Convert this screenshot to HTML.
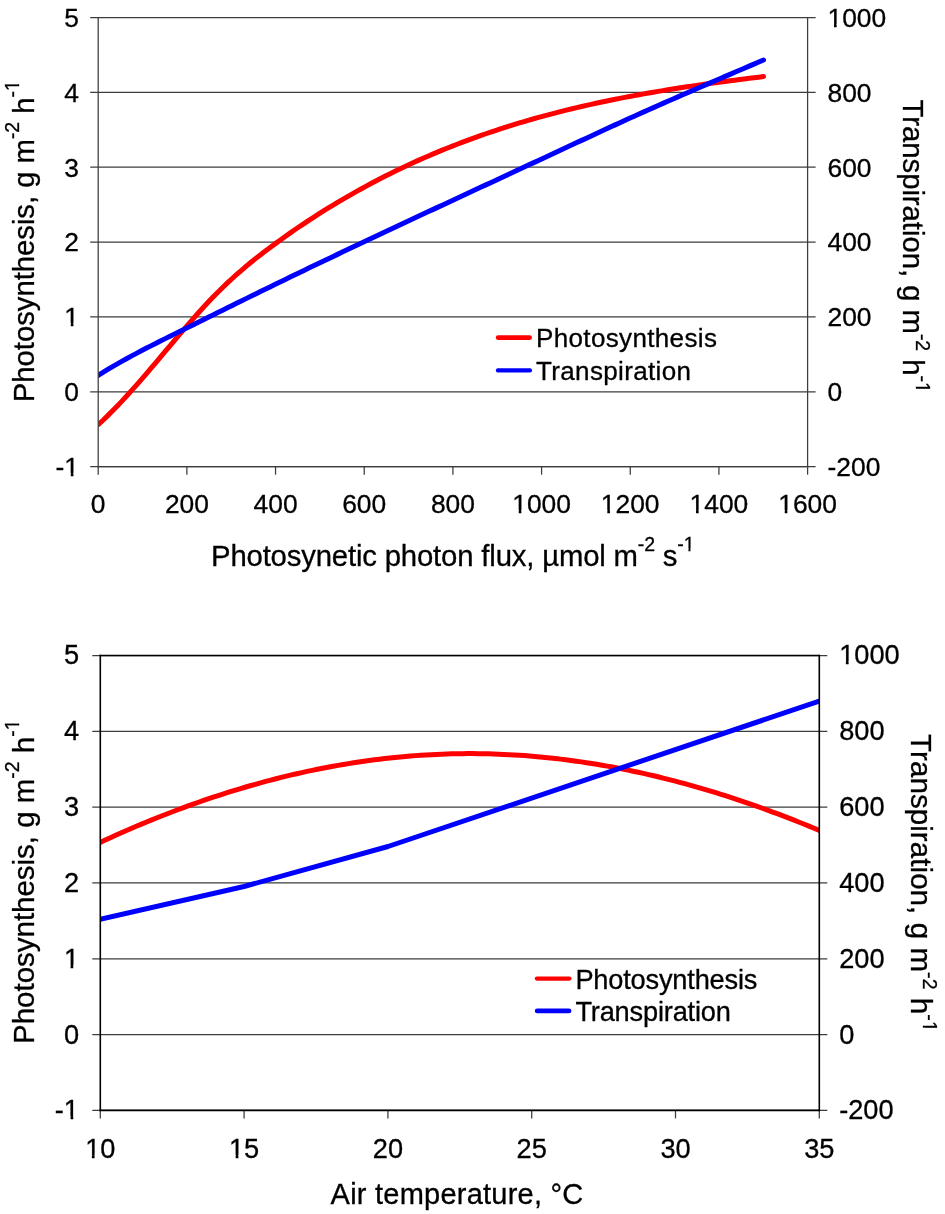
<!DOCTYPE html>
<html><head><meta charset="utf-8"><style>
html,body{margin:0;padding:0;background:#fff;}
svg{display:block;will-change:transform;}
text{font-family:"Liberation Sans",sans-serif;fill:#000;stroke:#000;stroke-width:0.3px;}
</style></head><body>
<svg width="945" height="1214" viewBox="0 0 945 1214">
<rect width="945" height="1214" fill="#fff"/>
<g stroke="#3c3c3c" stroke-width="1.25"><line x1="90.2" y1="17.50" x2="815.6" y2="17.50"/><line x1="90.2" y1="92.37" x2="815.6" y2="92.37"/><line x1="90.2" y1="167.23" x2="815.6" y2="167.23"/><line x1="90.2" y1="242.10" x2="815.6" y2="242.10"/><line x1="90.2" y1="316.97" x2="815.6" y2="316.97"/><line x1="90.2" y1="391.83" x2="815.6" y2="391.83"/><line x1="90.2" y1="466.70" x2="815.6" y2="466.70"/><line x1="98.20" y1="466.7" x2="98.20" y2="474.7"/><line x1="186.88" y1="466.7" x2="186.88" y2="474.7"/><line x1="275.55" y1="466.7" x2="275.55" y2="474.7"/><line x1="364.22" y1="466.7" x2="364.22" y2="474.7"/><line x1="452.90" y1="466.7" x2="452.90" y2="474.7"/><line x1="541.58" y1="466.7" x2="541.58" y2="474.7"/><line x1="630.25" y1="466.7" x2="630.25" y2="474.7"/><line x1="718.93" y1="466.7" x2="718.93" y2="474.7"/><line x1="807.60" y1="466.7" x2="807.60" y2="474.7"/></g>
<g font-size="26.4"><text x="98.2" y="512.7" text-anchor="middle">0</text><text x="186.9" y="512.7" text-anchor="middle">200</text><text x="275.6" y="512.7" text-anchor="middle">400</text><text x="364.2" y="512.7" text-anchor="middle">600</text><text x="452.9" y="512.7" text-anchor="middle">800</text><text x="541.6" y="512.7" text-anchor="middle">1000</text><text x="630.2" y="512.7" text-anchor="middle">1200</text><text x="718.9" y="512.7" text-anchor="middle">1400</text><text x="807.6" y="512.7" text-anchor="middle">1600</text><text x="79.0" y="26.8" text-anchor="end">5</text><text x="827.5" y="26.8">1000</text><text x="79.0" y="101.7" text-anchor="end">4</text><text x="827.5" y="101.7">800</text><text x="79.0" y="176.5" text-anchor="end">3</text><text x="827.5" y="176.5">600</text><text x="79.0" y="251.4" text-anchor="end">2</text><text x="827.5" y="251.4">400</text><text x="79.0" y="326.3" text-anchor="end">1</text><text x="827.5" y="326.3">200</text><text x="79.0" y="401.1" text-anchor="end">0</text><text x="827.5" y="401.1">0</text><text x="79.0" y="476.0" text-anchor="end">-1</text><text x="827.5" y="476.0">-200</text></g>
<clipPath id="c98"><rect x="98.20" y="17.50" width="709.40" height="449.20"/></clipPath>
<g clip-path="url(#c98)" fill="none" stroke-width="5" stroke-linecap="round" stroke-linejoin="round">
<path d="M98.20,424.65 L102.99,420.22 L107.77,415.61 L112.56,410.84 L117.35,405.93 L122.13,400.88 L126.92,395.71 L131.70,390.43 L136.49,385.06 L141.28,379.59 L146.06,374.06 L150.85,368.46 L155.64,362.82 L160.42,357.15 L165.21,351.46 L169.99,345.77 L174.78,340.09 L179.57,334.44 L184.35,328.84 L189.14,323.30 L193.93,317.84 L198.71,312.47 L203.50,307.21 L208.29,302.06 L213.07,297.05 L217.86,292.18 L222.64,287.47 L227.43,282.91 L232.22,278.48 L237.00,274.19 L241.79,270.02 L246.58,265.96 L251.36,262.02 L256.15,258.17 L260.94,254.41 L265.72,250.74 L270.51,247.14 L275.29,243.62 L280.08,240.15 L284.87,236.73 L289.65,233.36 L294.44,230.05 L299.23,226.78 L304.01,223.57 L308.80,220.40 L313.58,217.29 L318.37,214.22 L323.16,211.20 L327.94,208.23 L332.73,205.30 L337.52,202.42 L342.30,199.59 L347.09,196.80 L351.88,194.06 L356.66,191.36 L361.45,188.71 L366.23,186.10 L371.02,183.53 L375.81,181.01 L380.59,178.53 L385.38,176.09 L390.17,173.69 L394.95,171.34 L399.74,169.02 L404.53,166.74 L409.31,164.51 L414.10,162.31 L418.88,160.15 L423.67,158.03 L428.46,155.95 L433.24,153.90 L438.03,151.90 L442.82,149.93 L447.60,147.99 L452.39,146.09 L457.17,144.22 L461.96,142.39 L466.75,140.60 L471.53,138.83 L476.32,137.10 L481.11,135.41 L485.89,133.74 L490.68,132.11 L495.47,130.51 L500.25,128.94 L505.04,127.40 L509.82,125.89 L514.61,124.40 L519.40,122.95 L524.18,121.53 L528.97,120.13 L533.76,118.77 L538.54,117.43 L543.33,116.11 L548.12,114.82 L552.90,113.56 L557.69,112.33 L562.47,111.11 L567.26,109.93 L572.05,108.76 L576.83,107.62 L581.62,106.51 L586.41,105.41 L591.19,104.34 L595.98,103.29 L600.76,102.26 L605.55,101.25 L610.34,100.26 L615.12,99.30 L619.91,98.35 L624.70,97.42 L629.48,96.50 L634.27,95.61 L639.06,94.73 L643.84,93.88 L648.63,93.03 L653.41,92.21 L658.20,91.39 L662.99,90.60 L667.77,89.82 L672.56,89.05 L677.35,88.30 L682.13,87.56 L686.92,86.83 L691.71,86.12 L696.49,85.41 L701.28,84.72 L706.06,84.04 L710.85,83.37 L715.64,82.71 L720.42,82.06 L725.21,81.42 L730.00,80.79 L734.78,80.17 L739.57,79.55 L744.35,78.94 L749.14,78.34 L753.93,77.74 L758.71,77.16 L763.50,76.57" stroke="#f00"/>
<path d="M98.20,375.28 L102.99,372.33 L107.77,369.44 L112.56,366.61 L117.35,363.85 L122.13,361.14 L126.92,358.49 L131.70,355.89 L136.49,353.33 L141.28,350.80 L146.06,348.32 L150.85,345.86 L155.64,343.43 L160.42,341.02 L165.21,338.62 L169.99,336.24 L174.78,333.87 L179.57,331.50 L184.35,329.13 L189.14,326.76 L193.93,324.39 L198.71,322.02 L203.50,319.65 L208.29,317.29 L213.07,314.92 L217.86,312.55 L222.64,310.18 L227.43,307.82 L232.22,305.46 L237.00,303.09 L241.79,300.74 L246.58,298.38 L251.36,296.03 L256.15,293.68 L260.94,291.33 L265.72,288.99 L270.51,286.65 L275.29,284.32 L280.08,281.99 L284.87,279.66 L289.65,277.34 L294.44,275.02 L299.23,272.71 L304.01,270.41 L308.80,268.10 L313.58,265.80 L318.37,263.51 L323.16,261.22 L327.94,258.93 L332.73,256.65 L337.52,254.37 L342.30,252.09 L347.09,249.82 L351.88,247.55 L356.66,245.28 L361.45,243.02 L366.23,240.76 L371.02,238.50 L375.81,236.25 L380.59,233.99 L385.38,231.74 L390.17,229.50 L394.95,227.25 L399.74,225.01 L404.53,222.77 L409.31,220.53 L414.10,218.29 L418.88,216.05 L423.67,213.82 L428.46,211.59 L433.24,209.36 L438.03,207.13 L442.82,204.90 L447.60,202.67 L452.39,200.44 L457.17,198.22 L461.96,195.99 L466.75,193.77 L471.53,191.54 L476.32,189.32 L481.11,187.10 L485.89,184.87 L490.68,182.65 L495.47,180.43 L500.25,178.20 L505.04,175.98 L509.82,173.75 L514.61,171.53 L519.40,169.30 L524.18,167.08 L528.97,164.85 L533.76,162.63 L538.54,160.40 L543.33,158.17 L548.12,155.94 L552.90,153.72 L557.69,151.49 L562.47,149.27 L567.26,147.04 L572.05,144.82 L576.83,142.60 L581.62,140.37 L586.41,138.15 L591.19,135.94 L595.98,133.72 L600.76,131.51 L605.55,129.30 L610.34,127.09 L615.12,124.89 L619.91,122.70 L624.70,120.51 L629.48,118.34 L634.27,116.17 L639.06,114.02 L643.84,111.87 L648.63,109.74 L653.41,107.61 L658.20,105.49 L662.99,103.38 L667.77,101.27 L672.56,99.18 L677.35,97.09 L682.13,95.00 L686.92,92.92 L691.71,90.85 L696.49,88.78 L701.28,86.71 L706.06,84.65 L710.85,82.59 L715.64,80.53 L720.42,78.47 L725.21,76.42 L730.00,74.36 L734.78,72.31 L739.57,70.26 L744.35,68.20 L749.14,66.15 L753.93,64.09 L758.71,62.04 L763.50,59.98" stroke="#00f"/>
</g>
<g stroke="#3c3c3c" stroke-width="1.25" stroke-linecap="square"><line x1="98.20" y1="17.5" x2="98.20" y2="466.7"/><line x1="807.60" y1="17.5" x2="807.60" y2="466.7"/><line x1="98.20" y1="466.70" x2="807.60" y2="466.70"/></g>
<line x1="498.1" y1="337.6" x2="529.7" y2="337.6" stroke="#f00" stroke-width="4.6" stroke-linecap="round"/>
<line x1="497.9" y1="370.4" x2="530.0" y2="370.4" stroke="#00f" stroke-width="4.1" stroke-linecap="round"/>
<text x="536.0" y="347.4" font-size="26" letter-spacing="0.35">Photosynthesis</text>
<text x="536.0" y="380.2" font-size="26" letter-spacing="0.35">Transpiration</text>
<g stroke="#3c3c3c" stroke-width="1.25"><line x1="92.3" y1="655.50" x2="827.3" y2="655.50"/><line x1="92.3" y1="731.32" x2="827.3" y2="731.32"/><line x1="92.3" y1="807.13" x2="827.3" y2="807.13"/><line x1="92.3" y1="882.95" x2="827.3" y2="882.95"/><line x1="92.3" y1="958.77" x2="827.3" y2="958.77"/><line x1="92.3" y1="1034.58" x2="827.3" y2="1034.58"/><line x1="92.3" y1="1110.40" x2="827.3" y2="1110.40"/><line x1="100.30" y1="1110.4" x2="100.30" y2="1118.4"/><line x1="244.10" y1="1110.4" x2="244.10" y2="1118.4"/><line x1="387.90" y1="1110.4" x2="387.90" y2="1118.4"/><line x1="531.70" y1="1110.4" x2="531.70" y2="1118.4"/><line x1="675.50" y1="1110.4" x2="675.50" y2="1118.4"/><line x1="819.30" y1="1110.4" x2="819.30" y2="1118.4"/></g>
<g font-size="27.2"><text x="100.3" y="1157.7" text-anchor="middle">10</text><text x="244.1" y="1157.7" text-anchor="middle">15</text><text x="387.9" y="1157.7" text-anchor="middle">20</text><text x="531.7" y="1157.7" text-anchor="middle">25</text><text x="675.5" y="1157.7" text-anchor="middle">30</text><text x="819.3" y="1157.7" text-anchor="middle">35</text><text x="79.0" y="664.4" text-anchor="end">5</text><text x="839.2" y="664.4">1000</text><text x="79.0" y="740.2" text-anchor="end">4</text><text x="839.2" y="740.2">800</text><text x="79.0" y="816.0" text-anchor="end">3</text><text x="839.2" y="816.0">600</text><text x="79.0" y="891.9" text-anchor="end">2</text><text x="839.2" y="891.9">400</text><text x="79.0" y="967.7" text-anchor="end">1</text><text x="839.2" y="967.7">200</text><text x="79.0" y="1043.5" text-anchor="end">0</text><text x="839.2" y="1043.5">0</text><text x="79.0" y="1119.3" text-anchor="end">-1</text><text x="839.2" y="1119.3">-200</text></g>
<clipPath id="c100"><rect x="100.30" y="655.50" width="719.00" height="454.90"/></clipPath>
<g clip-path="url(#c100)" fill="none" stroke-width="5" stroke-linecap="round" stroke-linejoin="round">
<path d="M100.10,842.43 L105.27,840.03 L110.45,837.67 L115.62,835.33 L120.80,833.03 L125.97,830.76 L131.14,828.52 L136.32,826.31 L141.49,824.13 L146.67,821.98 L151.84,819.87 L157.02,817.78 L162.19,815.73 L167.36,813.71 L172.54,811.72 L177.71,809.76 L182.89,807.84 L188.06,805.94 L193.23,804.08 L198.41,802.25 L203.58,800.46 L208.76,798.69 L213.93,796.96 L219.10,795.26 L224.28,793.60 L229.45,791.96 L234.63,790.36 L239.80,788.79 L244.97,787.26 L250.15,785.75 L255.32,784.28 L260.50,782.85 L265.67,781.45 L270.85,780.08 L276.02,778.74 L281.19,777.44 L286.37,776.17 L291.54,774.93 L296.72,773.73 L301.89,772.57 L307.06,771.43 L312.24,770.33 L317.41,769.27 L322.59,768.24 L327.76,767.24 L332.93,766.28 L338.11,765.35 L343.28,764.46 L348.46,763.60 L353.63,762.78 L358.81,761.99 L363.98,761.23 L369.15,760.51 L374.33,759.83 L379.50,759.18 L384.68,758.57 L389.85,757.99 L395.02,757.45 L400.20,756.94 L405.37,756.47 L410.55,756.03 L415.72,755.63 L420.89,755.27 L426.07,754.94 L431.24,754.65 L436.42,754.39 L441.59,754.17 L446.76,753.99 L451.94,753.84 L457.11,753.73 L462.29,753.66 L467.46,753.62 L472.64,753.62 L477.81,753.65 L482.98,753.73 L488.16,753.84 L493.33,753.98 L498.51,754.16 L503.68,754.38 L508.85,754.64 L514.03,754.93 L519.20,755.25 L524.38,755.61 L529.55,756.01 L534.72,756.44 L539.90,756.91 L545.07,757.41 L550.25,757.95 L555.42,758.52 L560.59,759.13 L565.77,759.77 L570.94,760.45 L576.12,761.16 L581.29,761.90 L586.47,762.68 L591.64,763.49 L596.81,764.33 L601.99,765.21 L607.16,766.12 L612.34,767.07 L617.51,768.05 L622.68,769.06 L627.86,770.10 L633.03,771.18 L638.21,772.29 L643.38,773.43 L648.55,774.60 L653.73,775.80 L658.90,777.04 L664.08,778.31 L669.25,779.61 L674.43,780.94 L679.60,782.30 L684.77,783.70 L689.95,785.12 L695.12,786.58 L700.30,788.07 L705.47,789.58 L710.64,791.13 L715.82,792.71 L720.99,794.32 L726.17,795.96 L731.34,797.62 L736.51,799.32 L741.69,801.05 L746.86,802.81 L752.04,804.59 L757.21,806.41 L762.38,808.25 L767.56,810.12 L772.73,812.03 L777.91,813.96 L783.08,815.92 L788.26,817.90 L793.43,819.92 L798.60,821.96 L803.78,824.03 L808.95,826.13 L814.13,828.26 L819.30,830.41" stroke="#f00"/>
<path d="M100.1,919.3 L244.0,886.5 L388.0,846.5 L819.3,701.1" stroke="#00f"/>
</g>
<g stroke="#000" stroke-width="1.6" stroke-linecap="square"><line x1="100.30" y1="655.5" x2="100.30" y2="1110.4"/><line x1="819.30" y1="655.5" x2="819.30" y2="1110.4"/><line x1="100.30" y1="1110.40" x2="819.30" y2="1110.40"/><line x1="100.30" y1="655.50" x2="819.30" y2="655.50"/></g>
<line x1="536.9" y1="978.6" x2="569.4" y2="978.6" stroke="#f00" stroke-width="4.3" stroke-linecap="round"/>
<line x1="537.2" y1="1010.9" x2="569.0" y2="1010.9" stroke="#00f" stroke-width="4.9" stroke-linecap="round"/>
<text x="575.4" y="988.6" font-size="27.2" letter-spacing="-0.18">Photosynthesis</text>
<text x="575.4" y="1020.9" font-size="27.2" letter-spacing="-0.18">Transpiration</text>
<text transform="translate(211,565.6)" font-size="29.3" letter-spacing="-0.165">Photosynetic photon flux, µmol m<tspan font-size="19.5" dy="-15">-2</tspan><tspan dy="15"> s</tspan><tspan font-size="19.5" dy="-15">-1</tspan></text>
<text transform="translate(330.6,1204)" font-size="29.0" letter-spacing="0.23">Air temperature, °C</text>
<text transform="translate(33.75,402.2) rotate(-90)" font-size="29.3" letter-spacing="-0.037">Photosynthesis, g m<tspan font-size="19.5" dy="-15">-2</tspan><tspan dy="15"> h</tspan><tspan font-size="19.5" dy="-15">-1</tspan></text>
<text transform="translate(33.8,1044) rotate(-90)" font-size="29.5" letter-spacing="-0.015">Photosynthesis, g m<tspan font-size="19.5" dy="-15">-2</tspan><tspan dy="15"> h</tspan><tspan font-size="19.5" dy="-15">-1</tspan></text>
<text transform="translate(903.1,99.5) rotate(90)" font-size="29.3" letter-spacing="-0.035">Transpiration, g m<tspan font-size="19.5" dy="-13">-2</tspan><tspan dy="13"> h</tspan><tspan font-size="19.5" dy="-13">-1</tspan></text>
<text transform="translate(911.3,734) rotate(90)" font-size="29.5" letter-spacing="0.08">Transpiration, g m<tspan font-size="19.5" dy="-12">-2</tspan><tspan dy="12"> h</tspan><tspan font-size="19.5" dy="-12">-1</tspan></text>
<g fill="#fff"><rect x="512.76" y="510.00" width="5.95" height="5.00"/><rect x="521.38" y="510.00" width="5.55" height="5.00"/><rect x="601.36" y="510.00" width="5.95" height="5.00"/><rect x="609.98" y="510.00" width="5.55" height="5.00"/><rect x="690.06" y="510.00" width="5.95" height="5.00"/><rect x="698.68" y="510.00" width="5.55" height="5.00"/><rect x="778.76" y="510.00" width="5.95" height="5.00"/><rect x="787.38" y="510.00" width="5.55" height="5.00"/><rect x="828.02" y="24.00" width="5.95" height="5.00"/><rect x="836.64" y="24.00" width="5.55" height="5.00"/><rect x="64.83" y="323.00" width="5.95" height="5.00"/><rect x="73.45" y="323.00" width="5.55" height="5.00"/><rect x="64.83" y="473.00" width="5.95" height="5.00"/><rect x="73.45" y="473.00" width="5.55" height="5.00"/><rect x="85.71" y="1155.00" width="6.14" height="5.00"/><rect x="94.59" y="1155.00" width="5.73" height="5.00"/><rect x="229.51" y="1155.00" width="6.14" height="5.00"/><rect x="238.39" y="1155.00" width="5.73" height="5.00"/><rect x="839.73" y="661.00" width="6.14" height="6.00"/><rect x="848.61" y="661.00" width="5.73" height="6.00"/><rect x="64.41" y="965.00" width="6.14" height="5.00"/><rect x="73.29" y="965.00" width="5.73" height="5.00"/><rect x="64.39" y="1116.00" width="6.14" height="5.00"/><rect x="73.27" y="1116.00" width="5.73" height="5.00"/><rect transform="translate(211,565.6)" x="473.05" y="-17.00" width="4.35" height="4.00"/><rect transform="translate(211,565.6)" x="479.47" y="-17.00" width="4.06" height="4.00"/><rect transform="translate(33.75,402.2) rotate(-90)" x="311.57" y="-17.00" width="4.35" height="4.00"/><rect transform="translate(33.75,402.2) rotate(-90)" x="317.98" y="-17.00" width="4.06" height="4.00"/><rect transform="translate(33.8,1044) rotate(-90)" x="314.10" y="-17.00" width="4.35" height="4.00"/><rect transform="translate(33.8,1044) rotate(-90)" x="320.52" y="-17.00" width="4.06" height="4.00"/><rect transform="translate(903.1,99.5) rotate(90)" x="282.87" y="-15.00" width="4.35" height="4.00"/><rect transform="translate(903.1,99.5) rotate(90)" x="289.28" y="-15.00" width="4.06" height="4.00"/><rect transform="translate(911.3,734) rotate(90)" x="287.29" y="-14.00" width="4.35" height="4.00"/><rect transform="translate(911.3,734) rotate(90)" x="293.70" y="-14.00" width="4.06" height="4.00"/></g>
</svg>
</body></html>
